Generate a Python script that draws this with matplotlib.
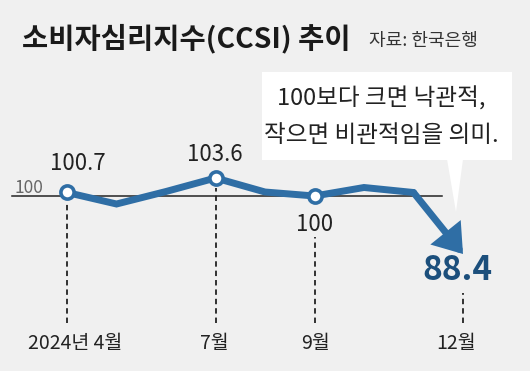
import matplotlib
matplotlib.use("Agg")
import matplotlib.pyplot as plt
from matplotlib import font_manager
from matplotlib.patches import Rectangle, Polygon

# 데이터 (2024년 4월 ~ 12월)
months = ["2024년 4월", "5월", "6월", "7월", "8월", "9월", "10월", "11월", "12월"]
ccsi = [100.7, 98.4, 100.9, 103.6, 100.8, 100.0, 101.7, 100.7, 88.4]
labeled = [0, 3, 5, 8]          # 값과 월을 표시하는 지점
base_value = 100

names = {f.name for f in font_manager.fontManager.ttflist}
narrow = "Liberation Sans Narrow" if "Liberation Sans Narrow" in names else "Noto Sans CJK KR"
fam = [narrow, "Noto Sans CJK KR", "DejaVu Sans"]
kfam = ["Noto Sans CJK KR", "DejaVu Sans"]
plt.rcParams["font.family"] = kfam

bg = "#f0f0f0"
blue = "#2f6ea5"
dark_blue = "#1c4f7c"

W, H = 530, 371
fig = plt.figure(figsize=(W / 100, H / 100), dpi=100, facecolor=bg)
ax = fig.add_axes([0, 0, 1, 1], facecolor=bg)

# 픽셀 매핑: x=월 인덱스(49.5px 간격, 4월=67px), y=값(1포인트=5px, 100=196px)
px_x, x0 = 49.5, 67
px_y, y0 = 5.0, 196
ax.set_xlim(-x0 / px_x, (W - x0) / px_x)
ax.set_ylim(base_value - (H - y0) / px_y, base_value + y0 / px_y)
ax.set_axis_off()

xs = list(range(len(ccsi)))

# 기준선 100
ax.plot([-1.11, 7.58], [base_value, base_value], color="#222222", lw=1.1, zorder=2)
ax.text(-1.06, base_value + 1.6, "100", color="#666666", fontsize=12.5,
        family=fam, ha="left", va="center")

# 점선 세로선
dash_top = {0: 98.6, 3: 101.5, 5: 91.8, 8: 80.6}
for i in labeled:
    ax.plot([i, i], [74.6, dash_top[i]], color="#222222", lw=1.3,
            ls=(0, (3, 2.2)), zorder=1)

# 메인 선 (11월까지)
ax.plot(xs[:-1], ccsi[:-1], color=blue, lw=5, solid_joinstyle="miter",
        solid_capstyle="round", zorder=3)
# 11월 -> 12월 화살표
ax.annotate("", xy=(xs[-1], ccsi[-1]), xytext=(xs[-2], ccsi[-2]),
            arrowprops=dict(arrowstyle="-|>,head_length=0.6,head_width=0.42",
                            color=blue, lw=5, mutation_scale=22,
                            shrinkA=0, shrinkB=0, joinstyle="miter"),
            zorder=3)

# 마커
mk = labeled[:-1]
ax.plot([xs[i] for i in mk], [ccsi[i] for i in mk], "o", ms=9.5,
        mfc="white", mec=blue, mew=2.6, zorder=4)

# 값 라벨
def fmt(v):
    return f"{v:g}"

ax.text(xs[0] + 0.22, ccsi[0] + 5.7, fmt(ccsi[0]), fontsize=16, family=fam,
        ha="center", va="center", color="#222222")
ax.text(xs[3] - 0.02, ccsi[3] + 4.8, fmt(ccsi[3]), fontsize=16, family=fam,
        ha="center", va="center", color="#222222")
ax.text(xs[5], ccsi[5] - 5.8, fmt(ccsi[5]), fontsize=16, family=fam,
        ha="center", va="center", color="#222222")
ax.text(xs[8] - 0.12, ccsi[8] - 3.4, fmt(ccsi[8]), fontsize=24, family=fam,
        fontweight="bold", ha="center", va="center", color=dark_blue)

# x 라벨
lab_dx = {0: 0.17, 3: -0.02, 5: 0.02, 8: -0.14}
for i in labeled:
    ax.text(xs[i] + lab_dx[i], 70.4, months[i], fontsize=14, family=fam,
            ha="center", va="center", color="#222222")

# 말풍선
tr = fig.transFigure
def fx(p):
    return p / W
def fy(p):
    return 1 - p / H

fig.patches.append(Rectangle((fx(262), fy(160)), fx(512) - fx(262), fy(72) - fy(160),
                             transform=tr, facecolor="white", edgecolor="none", zorder=1))
fig.patches.append(Polygon([(fx(447), fy(159)), (fx(463), fy(159)), (fx(456), fy(212))],
                           closed=True, transform=tr, facecolor="white",
                           edgecolor="none", zorder=1))
fig.text(fx(381), fy(99), "100보다 크면 낙관적,", fontsize=17, family=fam,
         ha="center", va="center", color="#222222", zorder=2)
fig.text(fx(381), fy(135), "작으면 비관적임을 의미.", fontsize=17, family=fam,
         ha="center", va="center", color="#222222", zorder=2)

# 제목
fig.text(fx(22), fy(39), "소비자심리지수(CCSI) 추이", fontsize=20.5, family=fam,
         fontweight="bold", ha="left", va="center", color="#1a1a1a")
fig.text(fx(369), fy(41), "자료: 한국은행", fontsize=13, family=fam,
         ha="left", va="center", color="#333333")

fig.savefig("out.png", dpi=100, facecolor=bg)
